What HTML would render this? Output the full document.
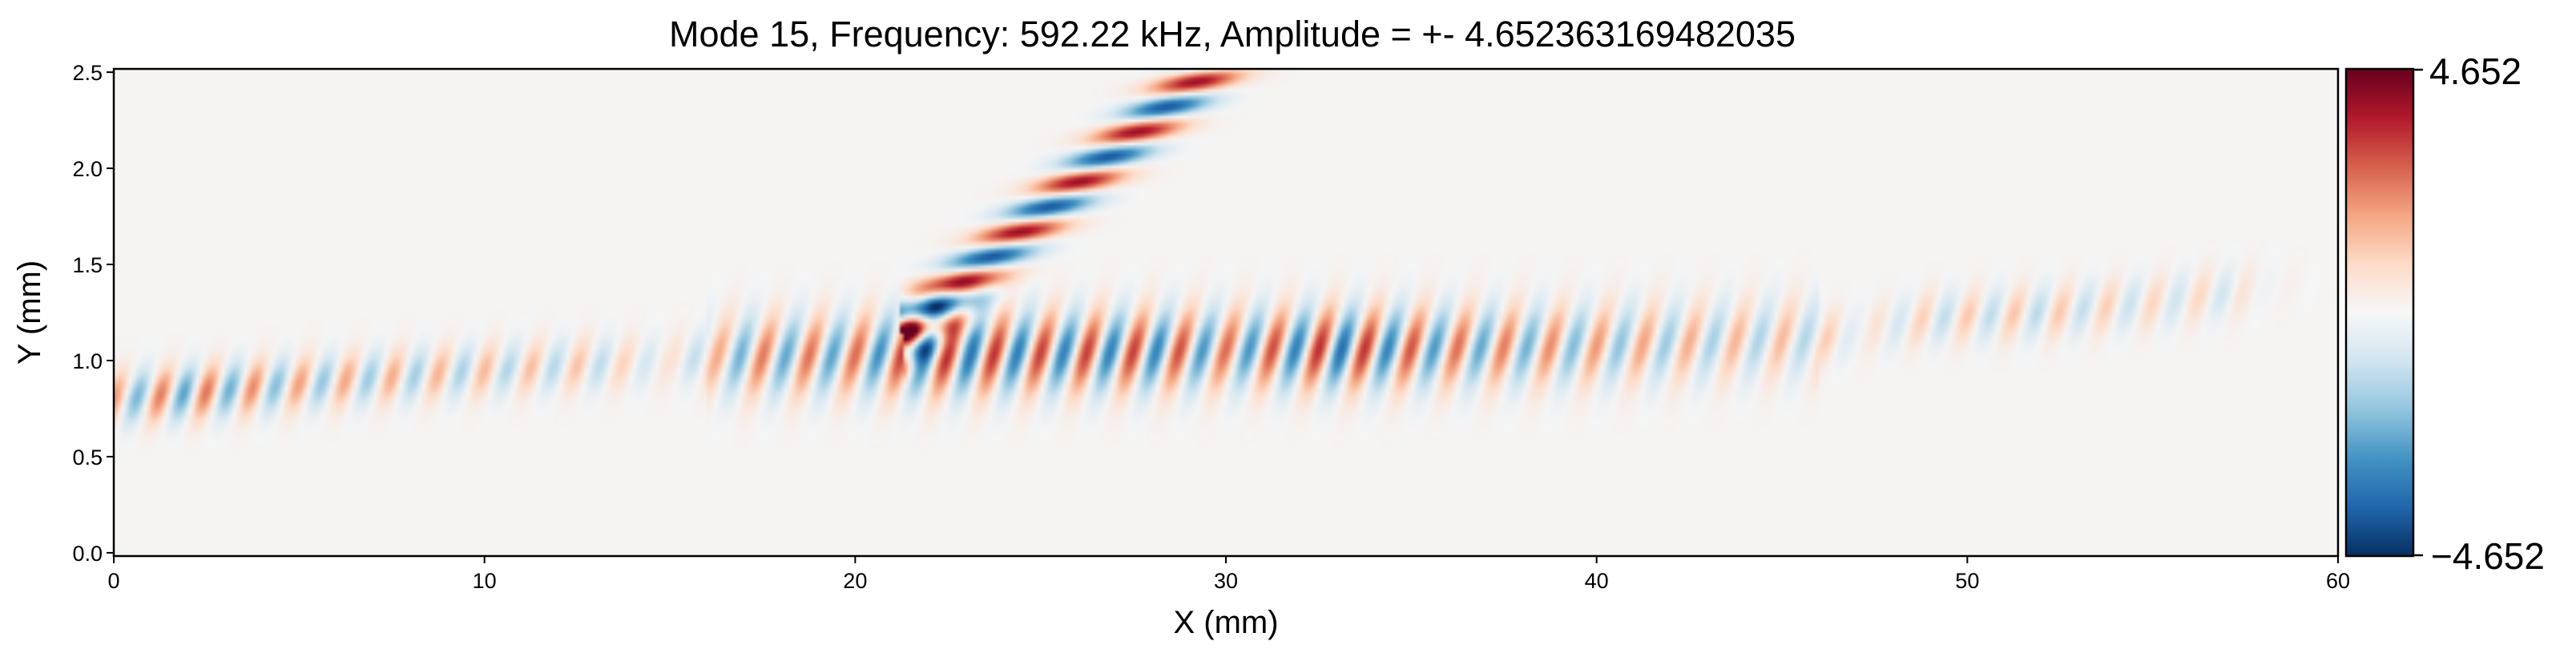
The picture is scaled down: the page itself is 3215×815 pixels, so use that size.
<!DOCTYPE html>
<html><head><meta charset="utf-8"><style>
body{margin:0;background:#fff;width:3215px;height:815px;overflow:hidden;font-family:"Liberation Sans","DejaVu Sans",sans-serif}
</style></head><body>
<svg id="chart" width="3215" height="815" viewBox="0 0 3215 815" xmlns="http://www.w3.org/2000/svg" style="position:absolute;left:0;top:0">
<defs>
<linearGradient id="cbg" x1="0" y1="1" x2="0" y2="0">
<stop offset="0" stop-color="#053061"/><stop offset="0.1" stop-color="#2166ac"/><stop offset="0.2" stop-color="#4393c3"/><stop offset="0.3" stop-color="#92c5de"/><stop offset="0.4" stop-color="#d1e5f0"/><stop offset="0.5" stop-color="#f7f7f7"/><stop offset="0.6" stop-color="#fddbc7"/><stop offset="0.7" stop-color="#f4a582"/><stop offset="0.8" stop-color="#d6604d"/><stop offset="0.9" stop-color="#b2182b"/><stop offset="1" stop-color="#67001f"/>
</linearGradient>
</defs>
<text x="1538" y="58" font-size="45" text-anchor="middle">Mode 15, Frequency: 592.22 kHz, Amplitude = +- 4.652363169482035</text>
<foreignObject x="142" y="86" width="2776" height="608"><canvas xmlns="http://www.w3.org/1999/xhtml" id="hm" width="600" height="127" style="width:2776px;height:608px;display:block"></canvas></foreignObject>
<rect x="142" y="86" width="2776" height="608" fill="none" stroke="#000" stroke-width="2.5"/>
<g id="xt"></g><g id="yt"></g>
<text x="1530" y="790" font-size="40" text-anchor="middle">X (mm)</text>
<text x="50" y="390" font-size="40" text-anchor="middle" transform="rotate(-90 50 390)">Y (mm)</text>
<rect x="2928" y="86" width="84" height="608" fill="url(#cbg)" stroke="#000" stroke-width="2.5"/>
<line x1="3012" y1="87" x2="3024" y2="87" stroke="#000" stroke-width="2.5"/>
<line x1="3012" y1="693" x2="3024" y2="693" stroke="#000" stroke-width="2.5"/>
<text x="3032" y="105" font-size="46">4.652</text>
<text x="3034" y="710" font-size="46">−4.652</text>
</svg>
<script>
const xTicks=[0,10,20,30,40,50,60];
const yTicks=[0.0,0.5,1.0,1.5,2.0,2.5];
// main band: centreline (mm) and amplitude at positions along x
const bandX=[0,2,5,10,13,15,17,20,22,25,28,30,33,36,40,43,46,47,49,52,55,57,58,60];
const bandY=[0.8,0.83,0.88,0.95,0.98,1.0,1.02,1.03,1.03,1.04,1.05,1.06,1.06,1.07,1.08,1.1,1.12,1.15,1.22,1.25,1.3,1.35,1.4,1.4];
const bandA=[2.0,2.6,1.9,1.5,1.3,0.6,2.4,2.6,3.6,3.2,3.2,2.6,3.6,2.6,2.0,1.6,1.4,0.4,1.2,1.3,1.0,0.9,0.2,0];
// diagonal branch
const branchStart=[21.3,1.15], branchEnd=[29.8,2.55], branchAmp=4.0;
const X0=0,X1=60,Y0=-0.017,Y1=2.517,L=142,R=2918,T=86,B=694;
const sx=v=>L+(v-X0)/(X1-X0)*(R-L), sy=v=>B-(v-Y0)/(Y1-Y0)*(B-T);
const ns="http://www.w3.org/2000/svg";
function mk(tag,attrs,parent){const e=document.createElementNS(ns,tag);for(const k in attrs)e.setAttribute(k,attrs[k]);parent.appendChild(e);return e;}
const xt=document.getElementById('xt'),yt=document.getElementById('yt');
xTicks.forEach(v=>{
  const l=mk('line',{x1:sx(v),x2:sx(v),y1:B,y2:B+9,stroke:'#000','stroke-width':2},xt);
  
  
  const t=mk('text',{x:sx(v),y:B+40,'font-size':27,'text-anchor':'middle'},xt);t.textContent=v;
  
  
});
yTicks.forEach(v=>{
  const l=mk('line',{x1:L-9,x2:L,y1:sy(v),y2:sy(v),stroke:'#000','stroke-width':2},yt);
  
  
  const t=mk('text',{x:L-14,y:sy(v)+10,'font-size':27,'text-anchor':'end'},yt);t.textContent=v.toFixed(1);
  
  
});
function interp(xs,ys,x){if(x<=xs[0])return ys[0];for(let i=1;i<xs.length;i++){if(x<=xs[i]){const f=(x-xs[i-1])/(xs[i]-xs[i-1]);return ys[i-1]+f*(ys[i]-ys[i-1]);}}return ys[ys.length-1];}
const stops=[[5,48,97],[33,102,172],[67,147,195],[146,197,222],[209,229,240],[245,245,245],[253,219,199],[244,165,130],[214,96,77],[178,24,43],[103,0,31]];
function cmap(v){let t=(v/4.652+1)/2;t=Math.max(0,Math.min(1,t))*10;const i=Math.min(9,Math.floor(t)),f=t-i;const a=stops[i],b=stops[i+1];return [a[0]+f*(b[0]-a[0]),a[1]+f*(b[1]-a[1]),a[2]+f*(b[2]-a[2])];}
const cv=document.getElementById('hm'),ctx=cv.getContext('2d');
const W=cv.width,H=cv.height,img=ctx.createImageData(W,H);
const bx=branchEnd[0]-branchStart[0],by=branchEnd[1]-branchStart[1],blen=Math.hypot(bx,by);
for(let j=0;j<H;j++){const y=Y1-(j+0.5)/H*(Y1-Y0);
  for(let i=0;i<W;i++){const x=X0+(i+0.5)/W*(X1-X0);
    let v=0.04;
    const cy=interp(bandX,bandY,x),A=interp(bandX,bandA,x);
    const sig=x>16&&x<46?0.15:0.1;const d=(y-cy)/sig;
    v+=A*Math.exp(-d*d/2)*Math.cos(2*Math.PI*(x-1.4*(y-cy))/1.25);
    const px=x-branchStart[0],py=y-branchStart[1];
    const u=(px*bx/blen+py*by/blen),w=(-px*by/blen+py*bx/blen);
    if(u>-0.05){const g=Math.exp(-(w*w)/(2*0.12*0.12));v+=branchAmp*g*Math.cos(2*Math.PI*(py+0.1*w)/0.26);}
    const c=cmap(v),k=(j*W+i)*4;img.data[k]=c[0];img.data[k+1]=c[1];img.data[k+2]=c[2];img.data[k+3]=255;}}
ctx.putImageData(img,0,0);
</script>
</body></html>
